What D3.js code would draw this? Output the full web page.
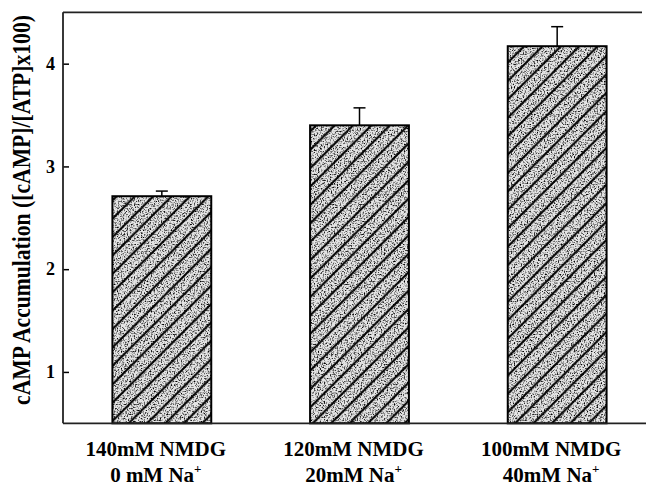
<!DOCTYPE html>
<html>
<head>
<meta charset="utf-8">
<script src="https://cdn.jsdelivr.net/npm/d3@7"></script>
<style>
  html, body { margin: 0; padding: 0; background: #fff; }
  svg { display: block; }
  text { font-family: "Liberation Serif", "DejaVu Serif", serif; font-weight: bold; fill: #000; }
</style>
</head>
<body>
<script>
// values
const groups = ["140mM NMDG|0 mM Na", "120mM NMDG|20mM Na", "100mM NMDG|40mM Na"];
const means = [2.71, 3.40, 4.17];
const errors = [0.05, 0.17, 0.19];
const yTicks = [1, 2, 3, 4];

const W = 646, H = 490;
const plotLeft = 63, plotTop = 12.3, plotBottom = 423.3;

let svg = d3.select("body").append("svg").attr("width", W).attr("height", H);
let defs = svg.append("defs");

// stipple texture + diagonal hatch
let f = defs.append("filter").attr("id", "stipple").attr("x", 0).attr("y", 0).attr("width", 1).attr("height", 1);
f.append("feTurbulence").attr("type", "fractalNoise").attr("baseFrequency", 0.7).attr("numOctaves", 2).attr("seed", 3).attr("result", "n");
f.append("feColorMatrix").attr("in", "n").attr("type", "matrix")
  .attr("values", "0 0 0 0 0  0 0 0 0 0  0 0 0 0 0  3 0 0 0 -1.4");
f.append("feComposite").attr("in2", "SourceGraphic").attr("operator", "in");

const hs = 18.4;
let pat = defs.append("pattern").attr("id", "hatch")
  .attr("patternUnits", "userSpaceOnUse").attr("width", hs).attr("height", hs);
pat.append("path")
  .attr("d", `M-2,${hs + 2}L${hs + 2},-2M-2,2L2,-2M${hs - 2},${hs + 2}L${hs + 2},${hs - 2}`)
  .attr("stroke", "#000").attr("stroke-width", 2);

let x = d3.scaleBand().domain(groups).range([plotLeft, 656]).paddingInner(0.5).paddingOuter(0.25);
let y = d3.scaleLinear().domain([0.5, 4.5]).range([plotBottom, plotTop]);

let data = groups.map((g, i) => ({g, m: means[i], e: errors[i]}));

let bars = svg.append("g").selectAll("g").data(data).enter().append("g");
bars.append("rect")
  .attr("x", d => x(d.g)).attr("y", d => y(d.m))
  .attr("width", x.bandwidth()).attr("height", d => y(0.5) - y(d.m))
  .attr("fill", "#e4e4e4");
bars.append("rect")
  .attr("x", d => x(d.g)).attr("y", d => y(d.m))
  .attr("width", x.bandwidth()).attr("height", d => y(0.5) - y(d.m))
  .attr("fill", "#8c8c8c").attr("filter", "url(#stipple)");
bars.append("rect")
  .attr("x", d => x(d.g)).attr("y", d => y(d.m))
  .attr("width", x.bandwidth()).attr("height", d => y(0.5) - y(d.m))
  .attr("fill", "url(#hatch)").attr("stroke", "#000").attr("stroke-width", 2);

// error bars (upper only)
let cx = d => x(d.g) + x.bandwidth() / 2;
bars.append("line")
  .attr("x1", cx).attr("x2", cx)
  .attr("y1", d => y(d.m)).attr("y2", d => y(d.m + d.e))
  .attr("stroke", "#000").attr("stroke-width", 1.5);
bars.append("line")
  .attr("x1", d => cx(d) - 6).attr("x2", d => cx(d) + 6)
  .attr("y1", d => y(d.m + d.e)).attr("y2", d => y(d.m + d.e))
  .attr("stroke", "#000").attr("stroke-width", 1.5);

// frame
svg.append("line").attr("x1", plotLeft).attr("x2", 642).attr("y1", plotTop).attr("y2", plotTop)
  .attr("stroke", "#222").attr("stroke-width", 1.8);
svg.append("line").attr("x1", plotLeft).attr("x2", 646).attr("y1", plotBottom).attr("y2", plotBottom)
  .attr("stroke", "#222").attr("stroke-width", 1.8);

// y axis with inward ticks
let ax = svg.append("g").attr("transform", `translate(${plotLeft},0)`)
  .call(d3.axisRight(y).tickValues(yTicks).tickSize(6).tickFormat(d3.format("d")));
ax.select(".domain").remove();
svg.append("line").attr("x1", plotLeft).attr("x2", plotLeft).attr("y1", plotTop).attr("y2", plotBottom)
  .attr("stroke", "#222").attr("stroke-width", 1.8);
ax.selectAll(".tick line").attr("stroke", "#000").attr("stroke-width", 1.5);
ax.selectAll(".tick text").attr("text-anchor", "end").attr("x", -8)
  .style("font-size", "18px").style("font-family", "Liberation Serif").style("font-weight", "bold");

// y title, sized to span the same length as in the figure
let yt = svg.append("text")
  .attr("transform", `translate(30,210) rotate(-90) scale(1,1.15)`)
  .attr("text-anchor", "middle").style("font-size", "20px")
  .text("cAMP Accumulation ([cAMP]/[ATP]x100)");
let len = yt.node().getComputedTextLength();
yt.style("font-size", (20 * 390 / len) + "px");

// x category labels
let lx = g => x(g) + x.bandwidth() / 2 - 6;
let lab = svg.append("g").selectAll("text").data(groups).enter().append("text")
  .attr("text-anchor", "middle").style("font-size", "21px");
lab.append("tspan").attr("x", lx).attr("y", 456)
  .text(g => g.split("|")[0]);
let l2 = lab.append("tspan").attr("x", lx).attr("y", 482);
l2.append("tspan").text(g => g.split("|")[1]);
l2.append("tspan").attr("dy", -9).style("font-size", "13px").text("+");
</script>
</body>
</html>
